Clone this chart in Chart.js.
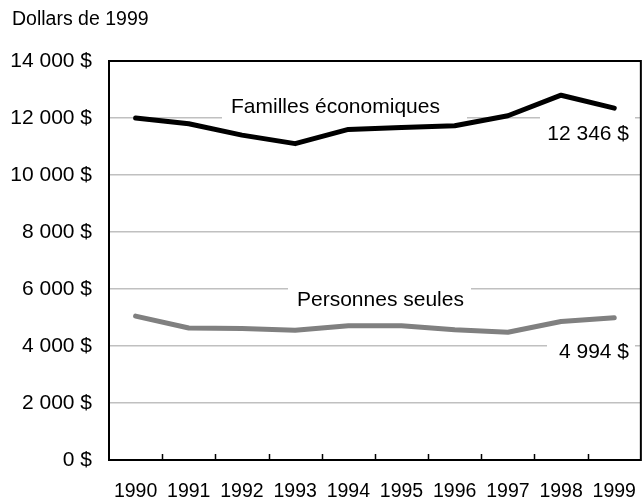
<!DOCTYPE html>
<html><head><meta charset="utf-8">
<script src="https://cdn.jsdelivr.net/npm/chart.js@4/dist/chart.umd.min.js"></script>
<style>html,body{margin:0;padding:0;background:#fff;overflow:hidden;width:644px;height:501px}#w{position:relative;width:648px;height:501px}</style>
</head><body><div id="w"><canvas id="c"></canvas></div>
<script>
const years = ['1990','1991','1992','1993','1994','1995','1996','1997','1998','1999'];
const famillesEconomiques = [12000, 11800, 11400, 11100, 11600, 11670, 11730, 12080, 12800, 12346];
const personnesSeules = [5050, 4630, 4610, 4550, 4710, 4710, 4570, 4480, 4860, 4994];
const yTicks = [0, 2000, 4000, 6000, 8000, 10000, 12000, 14000];
const FONT = '"Liberation Sans", Arial, sans-serif';
const fmt = v => String(v).replace(/\B(?=(\d{3})+(?!\d))/g, ' ') + ' $';

const deco = {
  id: 'deco',
  beforeDatasetsDraw(chart) {
    const {ctx, scales: {x, y}} = chart;
    ctx.save();
    const box = (l, t, r, b) => { ctx.fillStyle = '#fff'; ctx.fillRect(l, t, r - l, b - t); };
    const text = (s, px, py, align) => {
      ctx.fillStyle = '#000'; ctx.font = '21px ' + FONT;
      ctx.textAlign = align; ctx.textBaseline = 'middle';
      ctx.fillText(s, px, py);
    };
    const g12 = y.getPixelForValue(12000), g6 = y.getPixelForValue(6000), g4 = y.getPixelForValue(4000);
    box(222, g12 - 24, 467, g12 + 2);
    text('Familles économiques', 231, g12 - 11, 'left');
    box(288, g6 - 2, 471, g6 + 24);
    text('Personnes seules', 297, g6 + 11, 'left');
    box(540, g12 - 1, 635, g12 + 28);
    text(fmt(famillesEconomiques[9]), 629, g12 + 16, 'right');
    box(547, g4 - 2, 635, g4 + 18);
    text(fmt(personnesSeules[9]), 629, g4 + 6, 'right');
    ctx.restore();
  },
  afterDraw(chart) {
    const {ctx, chartArea: a, scales: {x}} = chart;
    ctx.save();
    ctx.strokeStyle = '#000';
    ctx.lineWidth = 2;
    ctx.strokeRect(a.left, a.top, a.right - a.left, a.bottom - a.top);
    ctx.beginPath();
    for (let i = 0; i < years.length - 1; i++) {
      const px = Math.round((x.getPixelForValue(i) + x.getPixelForValue(i + 1)) / 2) + 0.5;
      ctx.moveTo(px, a.bottom); ctx.lineTo(px, a.bottom - 6);
    }
    ctx.lineWidth = 1.5;
    ctx.stroke();
    ctx.fillStyle = '#000';
    ctx.font = '19.5px ' + FONT;
    ctx.textAlign = 'left'; ctx.textBaseline = 'middle';
    ctx.fillText('Dollars de 1999', 12, 20);
    ctx.restore();
  }
};

new Chart(document.getElementById('c'), {
  type: 'line',
  data: {
    labels: years,
    datasets: [
      {label: 'Familles économiques', data: famillesEconomiques, borderColor: '#000', borderWidth: 5, pointRadius: 0, tension: 0, fill: false, borderJoinStyle: 'round', borderCapStyle: 'round'},
      {label: 'Personnes seules', data: personnesSeules, borderColor: '#808080', borderWidth: 5, pointRadius: 0, tension: 0, fill: false, borderJoinStyle: 'round', borderCapStyle: 'round'}
    ]
  },
  options: {
    responsive: true, maintainAspectRatio: false, animation: false,
    layout: {padding: {top: 61, left: 0, right: 1, bottom: 0}},
    plugins: {legend: {display: false}, tooltip: {enabled: false}},
    scales: {
      x: {
        offset: true,
        grid: {display: false, offset: true},
        border: {display: false},
        ticks: {color: '#000', font: {family: FONT, size: 19.5}, padding: 12, maxRotation: 0, autoSkip: false},
        afterFit(s) { s.height = 41; }
      },
      y: {
        min: 0, max: 14000,
        afterBuildTicks(s) { s.ticks = yTicks.map(v => ({value: v})); },
        grid: {color: '#c0c0c0', lineWidth: 1.5, drawTicks: false},
        border: {display: false},
        ticks: {color: '#000', font: {family: FONT, size: 21}, padding: 17, callback: v => fmt(v)},
        afterFit(s) { s.width = 109; }
      }
    }
  },
  plugins: [deco]
});
</script></body></html>
